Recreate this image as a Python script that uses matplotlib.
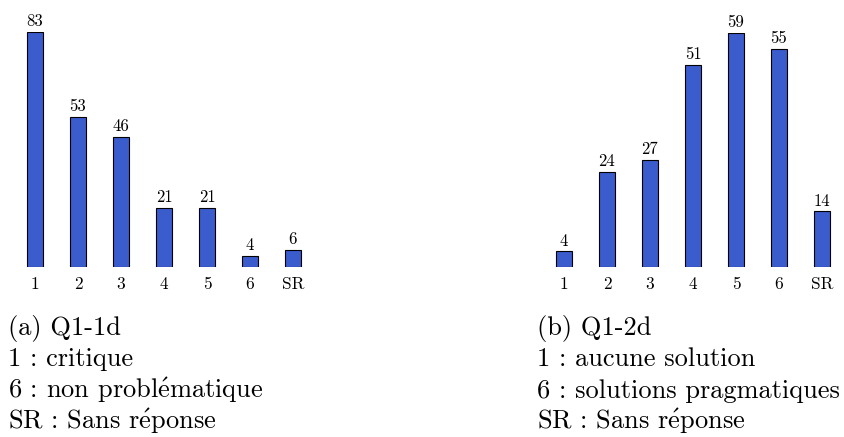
import matplotlib
matplotlib.use('Agg')
import matplotlib.pyplot as plt

# -----------------------------------------------------------------------------
#         Data
# -----------------------------------------------------------------------------
categories = ['1', '2', '3', '4', '5', '6', 'SR']
q1_1d = [83, 53, 46, 21, 21, 4, 6]
q1_2d = [4, 24, 27, 51, 59, 55, 14]

# cmr10 has no precomposed accented letters, so the acute goes through mathtext
E_ACUTE = r'$\acute{\mathrm{e}}$'
caption_a = ['(a) Q1-1d', '1 : critique',
             f'6 : non probl{E_ACUTE}matique',
             f'SR : Sans r{E_ACUTE}ponse']
caption_b = ['(b) Q1-2d', '1 : aucune solution', '6 : solutions pragmatiques',
             f'SR : Sans r{E_ACUTE}ponse']

plt.rcParams['font.family'] = ['cmr10', 'DejaVu Serif']
plt.rcParams['mathtext.fontset'] = 'cm'
plt.rcParams['axes.unicode_minus'] = False

bar_color = '#3b5ccd'

# -----------------------------------------------------------------------------
#         Plots
# -----------------------------------------------------------------------------
fig = plt.figure(figsize=(8.45, 4.37), dpi=100)
W, H = 845, 437


def px_axes(x0, x1, ybot, ytop):
    """Axes from pixel coordinates (origin top-left)."""
    return fig.add_axes([x0 / W, 1 - ybot / H, (x1 - x0) / W, (ybot - ytop) / H])


def draw_bars(ax, values):
    x = range(len(values))
    bars = ax.bar(x, values, width=0.37, color=bar_color,
                  edgecolor='black', linewidth=0.8)
    for b, v in zip(bars, values):
        ax.annotate(str(v), (b.get_x() + b.get_width() / 2, v),
                    xytext=(0, 4), textcoords='offset points',
                    ha='center', va='baseline', fontsize=12,
                    annotation_clip=False)
    ax.set_xlim(-0.5, len(values) - 0.5)
    ax.set_ylim(0, max(values))
    ax.set_xticks(list(x))
    ax.set_xticklabels(categories, fontsize=12.5)
    ax.tick_params(axis='x', length=0, pad=7)
    ax.set_yticks([])
    for s in ax.spines.values():
        s.set_visible(False)


ax_a = px_axes(13.5, 314.5, 267, 32)
draw_bars(ax_a, q1_1d)

ax_b = px_axes(542.5, 843.5, 267, 33)
draw_bars(ax_b, q1_2d)

# Captions under each chart
for x0, lines in [(8, caption_a), (537, caption_b)]:
    for i, line in enumerate(lines):
        fig.text(x0 / W, 1 - (335 + 31.3 * i) / H, line, fontsize=19,
                 ha='left', va='baseline')

fig.savefig('out.png', dpi=100)
